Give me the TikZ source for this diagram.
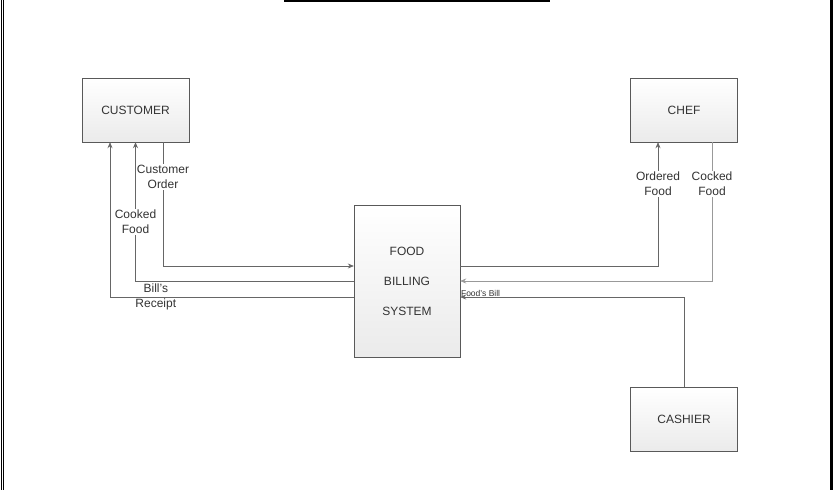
\documentclass[tikz,border=0pt]{standalone}
\usepackage{fontspec}
\setmainfont{Liberation Sans}
\usetikzlibrary{arrows.meta,positioning,calc}

\begin{document}
\begin{tikzpicture}[x=1pt,y=-1pt,
    entity/.style={draw=black!65,top color=white,bottom color=black!8,minimum width=107pt,minimum height=64pt,text=black!80,font=\fontsize{12}{15}\selectfont},
    flow/.style={draw=black!60,line width=0.7pt,-{Stealth[length=6pt,width=5pt]}},
    lbl/.style={fill=white,inner sep=1pt,align=center,text=black!80,font=\fontsize{12}{15}\selectfont}]
    \useasboundingbox (0,0) rectangle (834,490);
    % page frame
    \draw[line width=0.8pt] (1,0) -- (1,490);
    \draw[line width=0.8pt] (3.5,0) -- (3.5,490);
    \draw[line width=2.5pt] (831.5,0) -- (831.5,490);
    \draw[line width=1.6pt] (284,1) -- (550,1);

    \node[entity] (customer) at (135.5,110) {CUSTOMER};
    \node[entity] (chef) at (684,110) {CHEF};
    \node[entity] (cashier) at (684,419.5) {CASHIER};
    \node[entity,minimum width=106pt,minimum height=152pt,align=center] (fbs) at (407,281) {FOOD\\[15pt]BILLING\\[15pt]SYSTEM};

    % customer side
    \draw[flow] ([xshift=27.5pt]customer.south) |- ([yshift=15pt]fbs.west)
        node[lbl,pos=0.141] (order) {Customer\\Order};
    \draw[flow] (fbs.west) -| (customer.south)
        node[lbl,pos=0.712] (foodcust) {Cooked\\Food};
    \draw[flow] ([yshift=-16pt]fbs.west) -| ([xshift=-25.5pt]customer.south)
        node[lbl,fill=none,pos=0.406] (receipt) {Bill's\\Receipt};

    % chef side
    \draw[flow] ([yshift=15pt]fbs.east) -| ([xshift=-26pt]chef.south)
        node[lbl,pos=0.831] (ordered) {Ordered\\Food};
    \draw[flow,draw=black!40] ([xshift=28pt]chef.south) |- (fbs.east)
        node[lbl,pos=0.151] (cocked) {Cocked\\Food};

    % cashier
    \draw[flow] (cashier.north) |- ([yshift=-16pt]fbs.east)
        node[pos=1,anchor=south west,inner sep=0.5pt,text=black!80,font=\fontsize{8.5}{10}\selectfont] (bill) {Food's Bill};
\end{tikzpicture}
\end{document}
